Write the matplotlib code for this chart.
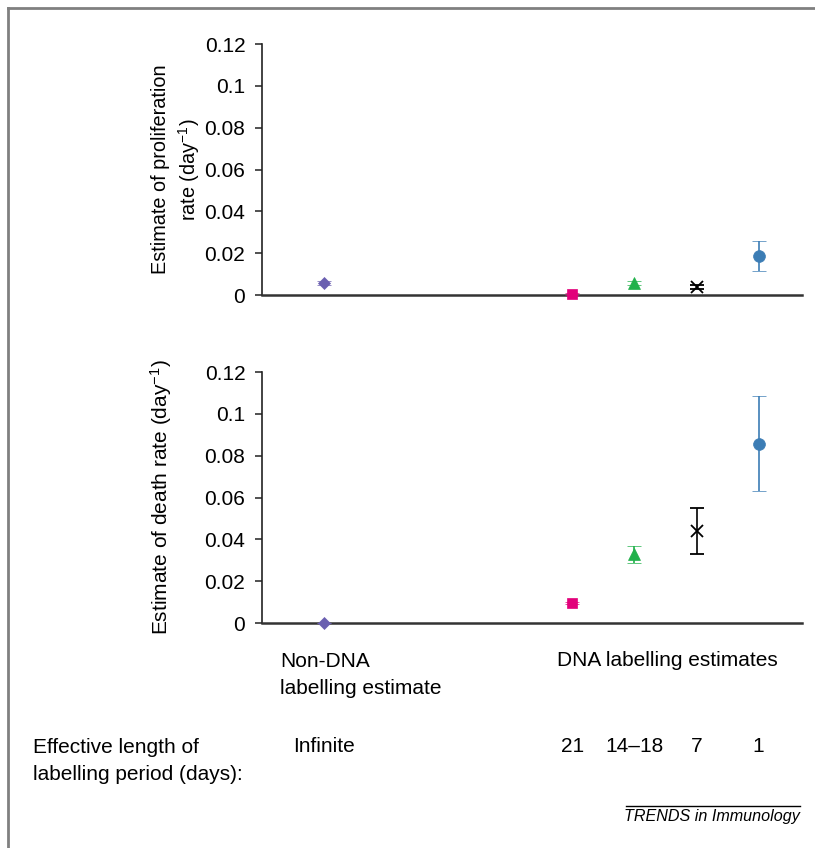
import matplotlib
matplotlib.use("Agg")
import matplotlib.pyplot as plt
from matplotlib.lines import Line2D

plt.rcParams['font.family'] = ['Liberation Sans', 'DejaVu Sans']
plt.rcParams['mathtext.fontset'] = 'custom'
plt.rcParams['mathtext.rm'] = 'Liberation Sans'
plt.rcParams['mathtext.it'] = 'Liberation Sans:italic'

# categories (effective labelling period)
periods = ["Infinite", "21", "14\u201318", "7", "1"]
xpos = [1, 5, 6, 7, 8]

# proliferation rate estimates and errors
prolif = [0.0058, 0.0004, 0.0058, 0.0040, 0.0185]
prolif_err = [0.0009, 0.0004, 0.0009, 0.0009, 0.0072]

# death rate estimates and errors
death = [0.0, 0.0096, 0.0328, 0.0440, 0.0858]
death_err = [0.0, 0.0006, 0.0042, 0.0112, 0.0228]

colors = ["#6a5fb0", "#e2007a", "#21b14b", "#000000", "#3c7db5"]
markers = ["D", "s", "^", "x", "o"]
msizes = [6, 7, 8, 9, 8.5]

fig = plt.figure(figsize=(8.15, 8.48), dpi=100)
ax1 = fig.add_axes([0.3215, 0.652, 0.6626, 0.296])
ax2 = fig.add_axes([0.3215, 0.2653, 0.6626, 0.296])

fs = 15


def draw(ax, vals, errs, label, lfs, lpad, lsp):
    for i in range(len(xpos)):
        ax.errorbar(xpos[i], vals[i], yerr=errs[i], fmt=markers[i],
                    color=colors[i], ms=msizes[i], mew=1.3 if markers[i] == "x" else 0.5,
                    elinewidth=1.2, capsize=5, capthick=1.2, clip_on=False, zorder=3)
    ax.set_xlim(0, 8.7)
    ax.set_ylim(0, 0.12)
    ax.set_yticks([0, 0.02, 0.04, 0.06, 0.08, 0.1, 0.12])
    ax.set_yticklabels(["0", "0.02", "0.04", "0.06", "0.08", "0.1", "0.12"])
    ax.set_xticks([])
    for s in ["top", "right"]:
        ax.spines[s].set_visible(False)
    ax.spines["left"].set_color("#222222")
    ax.spines["left"].set_linewidth(1.2)
    ax.spines["bottom"].set_color("#333333")
    ax.spines["bottom"].set_linewidth(1.8)
    ax.tick_params(axis="y", direction="out", length=5, width=1.1,
                   labelsize=fs, colors="#222222", labelcolor="black", pad=7)
    ax.set_ylabel(label, fontsize=lfs, labelpad=lpad, linespacing=lsp)


draw(ax1, prolif, prolif_err, "Estimate of proliferation\nrate (day$^{\u22121}$)", 14.3, 2, 1.3)
draw(ax2, death, death_err, "Estimate of death rate (day$^{\u22121}$)", 15, 22, 1.2)

fig.text(280 / 815, 1 - 652 / 848, "Non-DNA\nlabelling estimate", ha="left", va="top",
         fontsize=fs, linespacing=1.5)
fig.text(667 / 815, 1 - 661 / 848, "DNA labelling estimates", ha="center", va="center",
         fontsize=fs)
fig.text(33 / 815, 1 - 761 / 848, "Effective length of\nlabelling period (days):",
         ha="left", va="center", fontsize=fs, linespacing=1.5)
fig.text(324 / 815, 1 - 746 / 848, periods[0], ha="center", va="center", fontsize=fs)
for i in range(1, len(periods)):
    fig.text(ax1.transData.transform((xpos[i], 0))[0] / fig.bbox.width, 1 - 746 / 848,
             periods[i], ha="center", va="center", fontsize=fs)

fig.text(800 / 815, 1 - 817 / 848, "TRENDS in Immunology", ha="right", va="center",
         fontsize=11.6, style="italic")
fig.add_artist(Line2D([626 / 815, 800 / 815], [1 - 806 / 848, 1 - 806 / 848],
                      color="black", lw=1))

# frame lines on the left and top of the figure
fig.add_artist(Line2D([8 / 815, 8 / 815], [0, 1 - 8 / 848], color="#808080", lw=2))
fig.add_artist(Line2D([8 / 815, 1], [1 - 8 / 848, 1 - 8 / 848], color="#808080", lw=2))

fig.savefig("out.png", dpi=100)
